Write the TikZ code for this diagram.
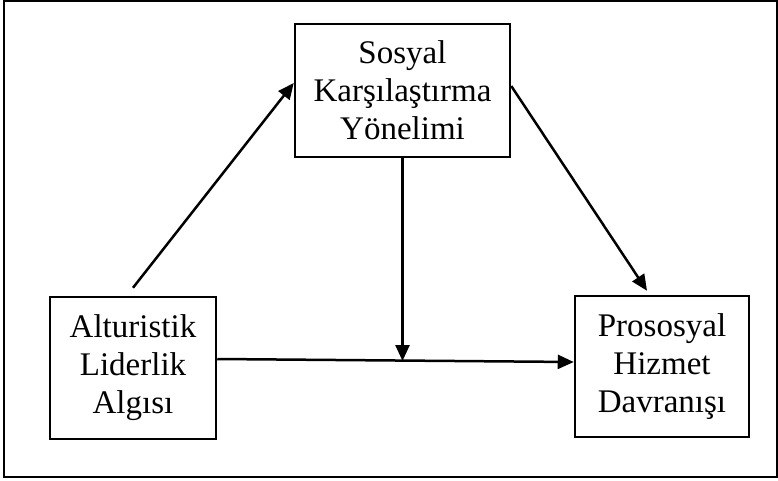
\documentclass[tikz,border=0pt]{standalone}
\usepackage{fontspec}
\setmainfont{Liberation Serif}
\usetikzlibrary{arrows.meta}
\begin{document}
\begin{tikzpicture}[x=1pt,y=-1pt,
  kutu/.style={draw,line width=2.5pt,align=center,inner sep=0pt,
    font=\fontsize{33}{38}\selectfont},
  ok/.style={line width=2.5pt,-{Triangle[length=16pt,width=14pt]}}]
\useasboundingbox (0,0) rectangle (778,481);
\draw [line width=2.5pt] (4,1) rectangle (777,477);

  \node [kutu,minimum width=215,minimum height=133] (kiy) at (402.5,90.5) {Sosyal\\Karşılaştırma\\Yönelimi};
  \node [kutu,minimum width=166,minimum height=142] (alg) at (133,368) {Alturistik\\Liderlik\\Algısı};
  \node [kutu,minimum width=174,minimum height=141] (dav) at (662,366.5) {Prososyal\\Hizmet\\Davranışı};
  \coordinate (m) at (402,361);

\draw [ok] ([yshift=8pt]alg.north) to ([yshift=7.5pt]kiy.west);
\draw [ok] ([yshift=4.5pt]kiy.east) to ([xshift=-15pt,yshift=4pt]dav.north);
\draw [ok] ([yshift=9pt]alg.east) to ([yshift=4.5pt]dav.west);
\draw [ok] (kiy.south) to (kiy.south |- m);
\end{tikzpicture}
\end{document}
